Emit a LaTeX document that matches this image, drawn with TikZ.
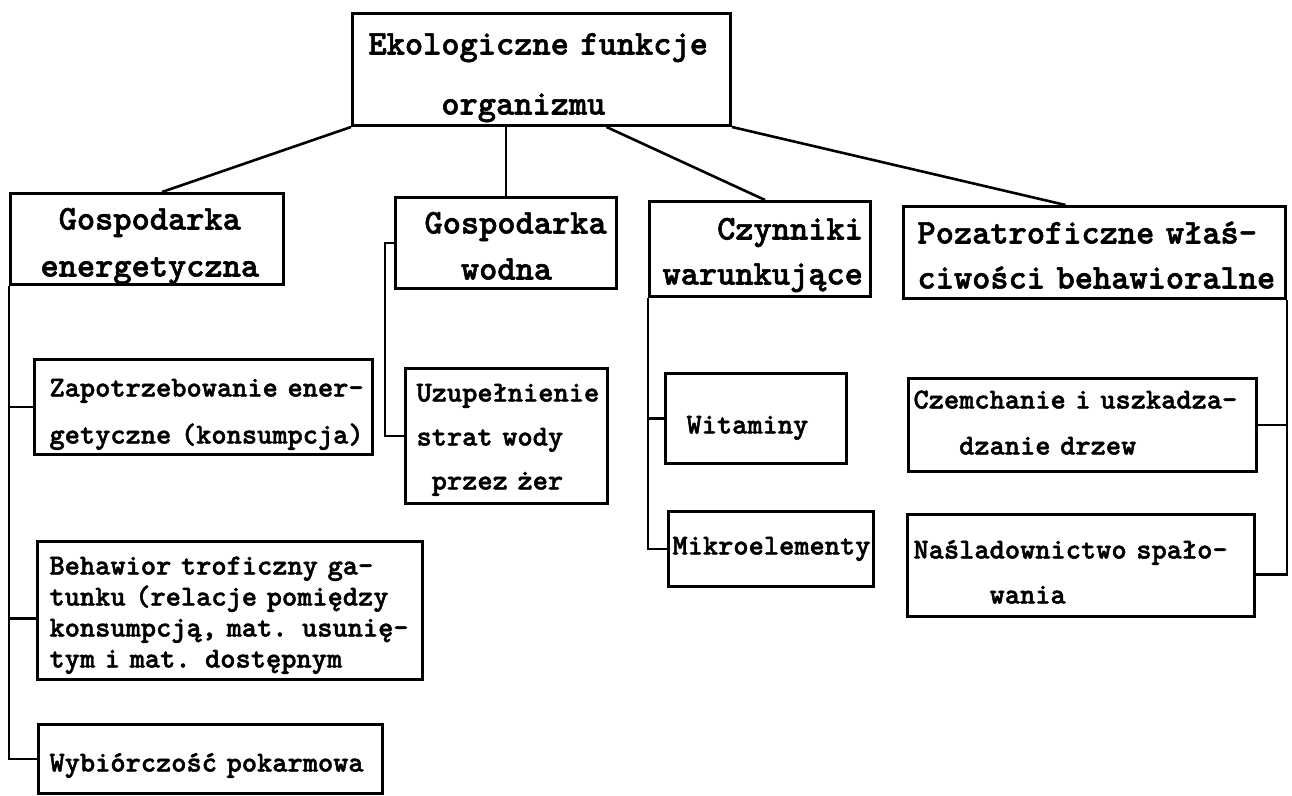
\documentclass[tikz,border=0pt]{standalone}
\usepackage{fontspec}
\newfontfamily\twfont{lmmonolt10-bold.otf}[FakeBold=1.6]
\newcommand\fA[1]{\twfont\fontsize{34.7pt}{#1pt}\selectfont\spaceskip=\fontcharwd\font`x\relax}
\newcommand\fB[1]{\twfont\fontsize{29pt}{#1pt}\selectfont\spaceskip=\fontcharwd\font`x\relax}
\newcommand\pd[1]{\hspace*{#1pt}}
\tikzset{
  box/.style={draw, line width=3pt, rectangle, inner sep=0pt, anchor=north west, align=left},
  link/.style={line width=2.6pt}
}
\begin{document}
\begin{tikzpicture}[x=1pt,y=-1pt]
\useasboundingbox[fill=white] (0,0) rectangle (1292,795);
% level 0
\node[box, text width=378pt, text height=41pt, text depth=71pt, font={\fA{60}}] (top) at (351,12)
  {\pd{16}Ekologiczne funkcje\\\pd{16}\phantom{xxxx}organizmu};
% level 1
\node[box, text width=273pt, text height=36pt, text depth=55pt, font={\fA{47}}] (energ) at (9,192)
  {\pd{30}\phantom{x}Gospodarka\\\pd{30}energetyczna};
\node[box, text width=221pt, text height=36pt, text depth=55pt, font={\fA{46}}] (wodna) at (394,196)
  {\pd{29}Gospodarka\\\pd{29}\phantom{xx}wodna};
\node[box, text width=221pt, text height=38pt, text depth=57pt, font={\fA{45}}] (czyn) at (648,200)
  {\pd{13}\phantom{xxx}Czynniki\\\pd{13}warunkujące};
\node[box, text width=382pt, text height=37pt, text depth=55pt, font={\fA{45}}] (poz) at (902,205)
  {\pd{14}Pozatroficzne właś-\\\pd{14}ciwości behawioralne};
% level 2
\node[box, text width=338pt, text height=37pt, text depth=58pt, font={\fB{47}}] (zap) at (33,358)
  {\pd{15}Zapotrzebowanie ener-\\\pd{15}getyczne (konsumpcja)};
\node[box, text width=385pt, text height=33pt, text depth=105pt, font={\fB{31}}] (beh) at (36,540)
  {\pd{12}Behawior troficzny ga-\\\pd{12}tunku (relacje pomiędzy\\\pd{12}konsumpcją, mat. usunię-\\\pd{12}tym i mat. dostępnym};
\node[box, text width=344pt, text height=47pt, text depth=22pt, font={\fB{40}}] (wyb) at (37,723)
  {\pd{11}Wybiórczość pokarmowa};
\node[box, text width=202pt, text height=33pt, text depth=102pt, font={\fB{44}}] (uzu) at (404,367)
  {\pd{11}Uzupełnienie\\\pd{11}strat wody\\\pd{11}\phantom{x}przez żer};
\node[box, text width=181pt, text height=60pt, text depth=30pt, font={\fB{40}}] (wit) at (664,372)
  {\pd{21}Witaminy};
\node[box, text width=205pt, text height=43pt, text depth=32pt, font={\fB{40}}] (mik) at (667,510)
  {\pd{4}Mikroelementy};
\node[box, text width=348pt, text height=30pt, text depth=63pt, font={\fB{46}}] (czem) at (907,377)
  {\pd{5}Czemchanie i uszkadza-\\\pd{5}\phantom{xxx}dzanie drzew};
\node[box, text width=347pt, text height=44pt, text depth=58pt, font={\fB{45}}] (nas) at (906,513)
  {\pd{6}Naśladownictwo spało-\\\pd{6}\phantom{xxxxx}wania};
% connectors from the top
\draw[link] (top.south west) -- ([xshift=15pt]energ.north);
\draw[link] (wodna.north) -- (wodna.north |- top.south);
\draw[link] ([xshift=65pt]top.south) -- ([xshift=5pt]czyn.north);
\draw[link] (top.south east) -- ([xshift=-29pt]poz.north);
% brackets
\coordinate (behj) at ([yshift=-8pt]beh.west);
\coordinate (nasj) at ([yshift=-9pt]nas.east);
\draw[link] (energ.south west) |- (wyb.west);
\draw[link] (energ.south west |- zap.west) -- (zap.west);
\draw[link] (energ.south west |- behj) -- (behj);
\draw[link] (wodna.west) -- ++(-9,0) |- (uzu.west);
\draw[link] (czyn.south west) |- (mik.west);
\draw[link] (czyn.south west |- wit.west) -- (wit.west);
\draw[link] (poz.south east) |- (nasj);
\draw[link] (poz.south east |- czem.east) -- (czem.east);
\end{tikzpicture}
\end{document}
